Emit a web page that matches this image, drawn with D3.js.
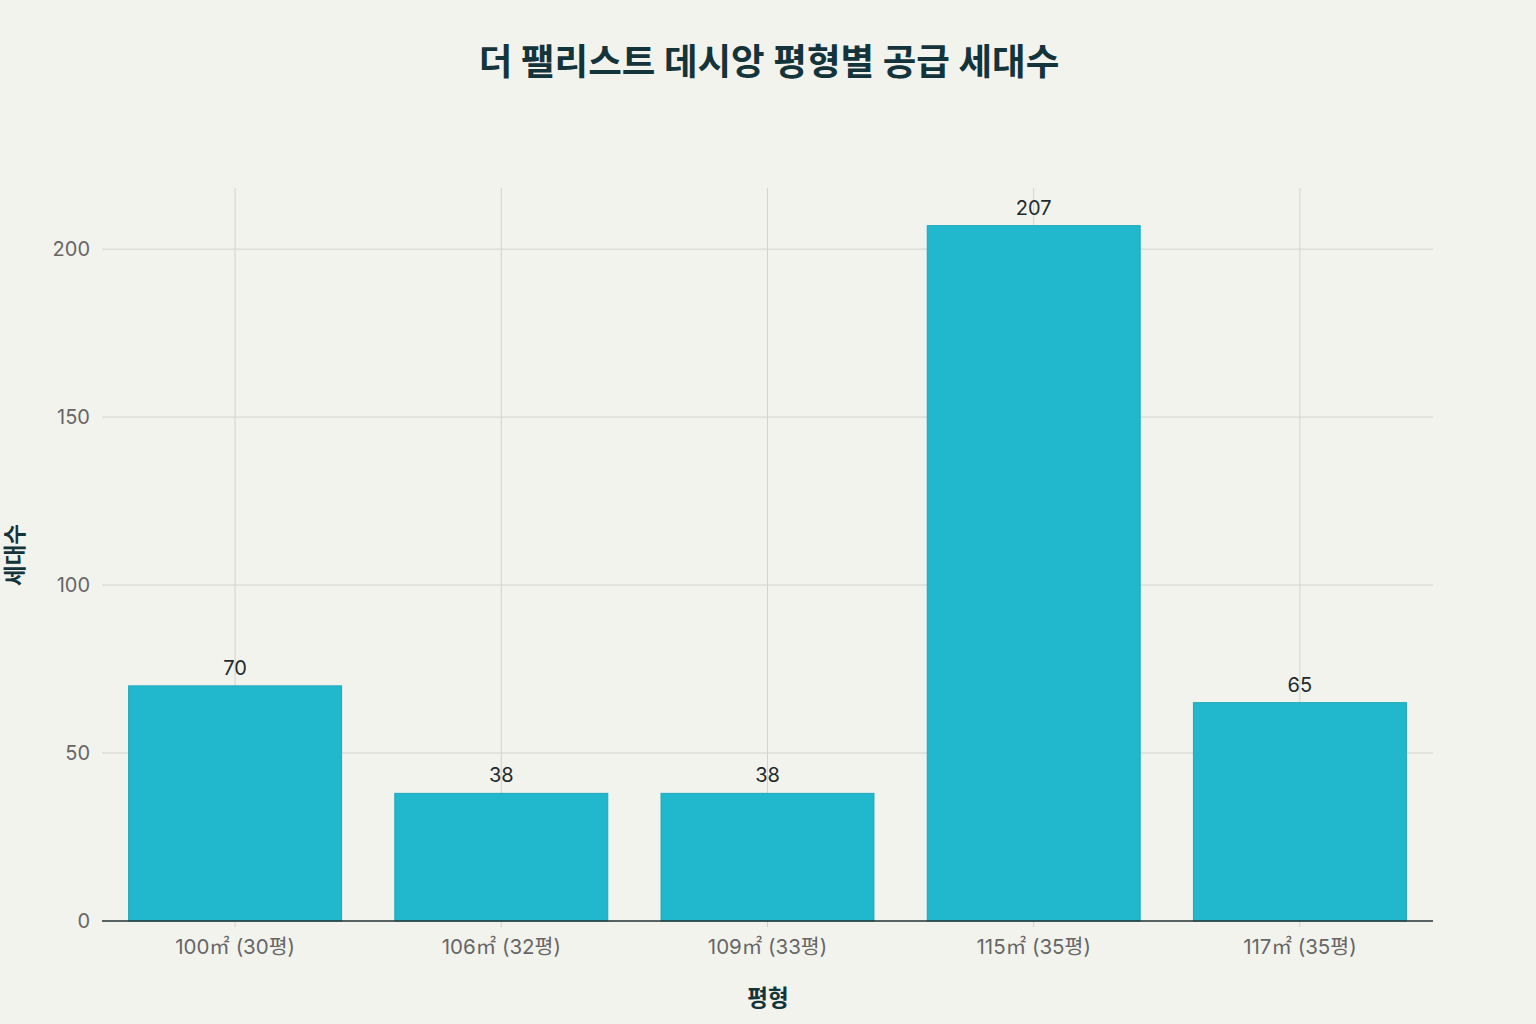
<!DOCTYPE html>
<html><head><meta charset="utf-8">
<script src="https://cdn.jsdelivr.net/npm/d3@7"></script>
<style>
html,body{margin:0;padding:0;background:#f3f3ee;}
svg{display:block;}
text{font-family:Inter,"Noto Sans CJK KR","Noto Sans",sans-serif;}
</style></head>
<body>
<svg id="chart" width="1536" height="1024"></svg>
<script>
const categories = ["100㎡ (30평)", "106㎡ (32평)", "109㎡ (33평)", "115㎡ (35평)", "117㎡ (35평)"];
const values = [70, 38, 38, 207, 65];
const yTicks = [0, 50, 100, 150, 200];
const title = "더 팰리스트 데시앙 평형별 공급 세대수";
const xTitle = "평형";
const yTitle = "세대수";

const W = 1536, H = 1024;
const m = {left: 102, right: 103, top: 188, bottom: 103};
const svg = d3.select("#chart");
svg.append("rect").attr("width", W).attr("height", H).attr("fill", "#f3f3ee");

const x = d3.scaleBand().domain(categories).range([m.left, W - m.right]).paddingInner(0.2).paddingOuter(0.1);
const y = d3.scaleLinear().domain([0, 218.2]).range([H - m.bottom, m.top]);

// horizontal grid
svg.append("g").selectAll("line").data(yTicks.filter(d => d > 0)).join("line")
  .attr("x1", m.left).attr("x2", W - m.right)
  .attr("y1", d => y(d)).attr("y2", d => y(d))
  .attr("stroke", "#d3d3ce").attr("stroke-width", 1);
// vertical grid
svg.append("g").selectAll("line").data(categories).join("line")
  .attr("x1", d => x(d) + x.bandwidth() / 2).attr("x2", d => x(d) + x.bandwidth() / 2)
  .attr("y1", m.top).attr("y2", H - m.bottom + 6)
  .attr("stroke", "#d3d3ce").attr("stroke-width", 1);

// bars
svg.append("g").selectAll("rect").data(values).join("rect")
  .attr("x", (d, i) => x(categories[i]))
  .attr("width", x.bandwidth())
  .attr("y", d => y(d))
  .attr("height", d => y(0) - y(d))
  .attr("fill", "#21b8cd")
  .attr("stroke", "#1ea8ba").attr("stroke-width", 1);

// value labels
svg.append("g").selectAll("text").data(values).join("text")
  .attr("x", (d, i) => x(categories[i]) + x.bandwidth() / 2)
  .attr("y", d => y(d) - 11)
  .attr("text-anchor", "middle")
  .attr("font-size", 20).attr("fill", "#1f2a2e")
  .text(d => d);

// zero line
svg.append("line").attr("x1", m.left).attr("x2", W - m.right)
  .attr("y1", y(0)).attr("y2", y(0)).attr("stroke", "#263235").attr("stroke-width", 1.3);

// y axis
const yAxis = d3.axisLeft(y).tickValues(yTicks).tickSize(0).tickPadding(12);
const gy = svg.append("g").attr("transform", `translate(${m.left},0)`).call(yAxis);
gy.select(".domain").remove();
gy.selectAll("text").attr("font-size", 20).attr("fill", "#666666")
  .style("font-family", "Inter,'Noto Sans CJK KR',sans-serif");

// x axis
const xAxis = d3.axisBottom(x).tickSize(0).tickPadding(18);
const gx = svg.append("g").attr("transform", `translate(0,${H - m.bottom})`).call(xAxis);
gx.select(".domain").remove();
gx.selectAll("text").attr("font-size", 20.5).attr("fill", "#666666")
  .style("font-family", "Inter,'Noto Sans CJK KR',sans-serif");

// titles
svg.append("text").attr("x", W / 2 + 1).attr("y", 75).attr("text-anchor", "middle")
  .attr("font-size", 36.5).attr("font-weight", "bold").attr("fill", "#13343b").text(title);
svg.append("text").attr("x", W / 2).attr("y", 1006).attr("text-anchor", "middle")
  .attr("font-size", 22.5).attr("font-weight", "bold").attr("fill", "#13343b").text(xTitle);
svg.append("text").attr("transform", `translate(23,555) rotate(-90)`).attr("text-anchor", "middle")
  .attr("font-size", 22.5).attr("font-weight", "bold").attr("fill", "#13343b").text(yTitle);
</script>
</body></html>
